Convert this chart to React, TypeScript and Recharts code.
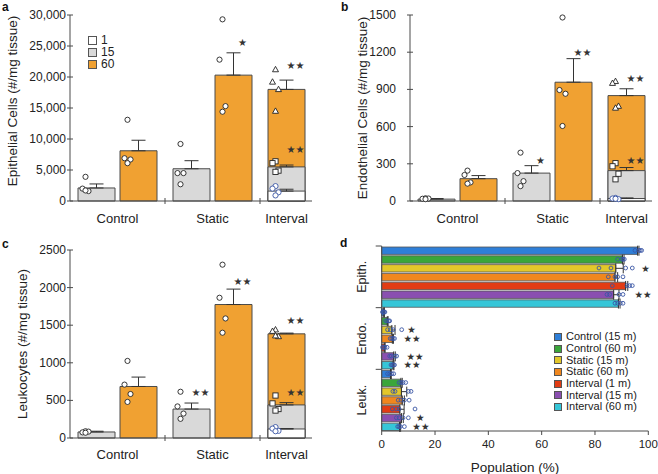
import React from 'react'
import {
  ComposedChart,
  Bar,
  Scatter,
  XAxis,
  YAxis,
  ErrorBar,
  Cell,
  ReferenceDot,
} from 'recharts'

const FONT = '"Liberation Sans", Arial, sans-serif'
const STAR_FONT = '"DejaVu Sans", sans-serif'
const ORANGE = '#F0A132'
const GRAY = '#D9D9D9'
const EDGE = '#4a4a4a'
const INK = '#222'
const BLUE_DOT = '#3a56a5'

// panels a-c, each array in the order:
// Control 15, Control 60, Static 15, Static 60, Interval 1, Interval 15, Interval 60
const groups = ['Control', 'Static', 'Interval']

const epiMeans = [2100, 8100, 5200, 20300, 1600, 5500, 18000]
const epiErrs = [650, 1700, 1300, 3600, 300, 300, 1500]
const epiPoints = [
  [3900, 2000, 1600, 1700],
  [13100, 6900, 6700, 6100],
  [9200, 4500, 4500, 2700],
  [29300, 22800, 15300, 14400],
  [2400, 2000, 1400, 900],
  [6400, 6100, 4900, 4700],
  [21200, 19200, 18000, 14500],
]
const epiTicks = [0, 5000, 10000, 15000, 20000, 25000, 30000]
const epiStars = [
  { group: 'Static', slot: 1, value: 25600, text: '★' },
  { group: 'Interval', slot: 0, value: 21800, text: '★★' },
  { group: 'Interval', slot: 0, value: 8300, text: '★★' },
]

const endoMeans = [15, 180, 225, 958, 20, 245, 850]
const endoErrs = [5, 25, 60, 190, 5, 25, 55]
const endoPoints = [
  [22, 18, 20, 15],
  [245, 210, 150, 140],
  [390, 225, 160, 120],
  [1480, 895, 865, 605],
  [25, 20, 15, 18],
  [305, 280, 220, 175],
  [965, 950, 765, 750],
]
const endoTicks = [0, 300, 600, 900, 1200, 1500]
const endoStars = [
  { group: 'Static', slot: 0, value: 330, text: '★' },
  { group: 'Static', slot: 1, value: 1200, text: '★★' },
  { group: 'Interval', slot: 0, value: 990, text: '★★' },
  { group: 'Interval', slot: 0, value: 330, text: '★★' },
]

const leukMeans = [80, 685, 385, 1775, 120, 440, 1385]
const leukErrs = [10, 125, 80, 205, 5, 30, 10]
const leukPoints = [
  [90, 75, 85, 70],
  [1025, 710, 585, 480],
  [615, 420, 325, 255],
  [2305, 1865, 1590, 1400],
  [145, 125, 95, 90],
  [565, 460, 385, 365],
  [1440, 1420, 1350, 1360],
]
const leukTicks = [0, 500, 1000, 1500, 2000, 2500]
const leukStars = [
  { group: 'Static', slot: 0, value: 600, text: '★★' },
  { group: 'Static', slot: 1, value: 2080, text: '★★' },
  { group: 'Interval', slot: 0, value: 1565, text: '★★' },
  { group: 'Interval', slot: 0, value: 600, text: '★★' },
]

const timeLegend = [
  { label: '1', color: '#ffffff' },
  { label: '15', color: GRAY },
  { label: '60', color: ORANGE },
]

// panel d
const popGroups = ['Epith.', 'Endo.', 'Leuk.']
const popSeries = [
  'Control (15 m)',
  'Control (60 m)',
  'Static (15 m)',
  'Static (60 m)',
  'Interval (1 m)',
  'Interval (15 m)',
  'Interval (60 m)',
]
const popColors = ['#2f7fd8', '#3aa63a', '#e3c72a', '#f0871e', '#e23c14', '#8a4fb0', '#36c6d8']

const epiPct = [96, 90.3, 87.8, 87.5, 91.5, 87, 88.8]
const epiPctErr = [0.5, 0.6, 2.8, 1, 0.8, 2, 0.6]
const epiPctPts = [
  [95, 96.5, 97, 97.5],
  [88.5, 90, 90.5, 91],
  [81.5, 86, 91.5, 94],
  [85, 87.5, 88.5, 90.5],
  [86.5, 92, 93, 94],
  [84.5, 85.5, 89, 90.5],
  [87.5, 88.5, 89.5, 90.5],
]
const endoPct = [0.8, 2.1, 3.8, 4.0, 1.0, 4.5, 4.3]
const endoPctErr = [0.2, 0.3, 1.2, 0.4, 0.3, 0.6, 0.3]
const endoPctPts = [
  [0.3, 0.6, 0.9, 1.2],
  [1.5, 2, 2.6, 3],
  [2.2, 3.2, 4.3, 7.5],
  [3.2, 3.8, 4.3, 4.8],
  [0.3, 0.8, 1.2, 2],
  [3, 3.6, 5, 5.6],
  [3.5, 4, 4.4, 4.8],
]
const leukPct = [3.3, 7.2, 7.4, 7.7, 6.8, 7.4, 6.7]
const leukPctErr = [0.3, 0.5, 2, 0.8, 1.6, 0.7, 0.4]
const leukPctPts = [
  [2.2, 3, 3.8, 4.5],
  [6.5, 7.2, 8, 9],
  [4.2, 5, 10, 11],
  [6.2, 7.2, 8.5, 10.3],
  [4, 5.5, 6.5, 12.5],
  [5.5, 6.5, 8, 10],
  [6, 6.5, 7, 8.5],
]
const popTicks = [0, 20, 40, 60, 80, 100]
const popStars = [
  { group: 'Epith.', series: 2, value: 99, text: '★' },
  { group: 'Epith.', series: 5, value: 98, text: '★★' },
  { group: 'Endo.', series: 2, value: 11.2, text: '★' },
  { group: 'Endo.', series: 3, value: 11.4, text: '★★' },
  { group: 'Endo.', series: 5, value: 12.5, text: '★★' },
  { group: 'Endo.', series: 6, value: 11.4, text: '★★' },
  { group: 'Leuk.', series: 5, value: 14.5, text: '★' },
  { group: 'Leuk.', series: 6, value: 14.7, text: '★★' },
]

// layout of panels a-c
const BAND = 95
const BAR = 37
const GAP = 5
const SLOT = (BAR + GAP) / 2
const Y_AXIS_W = 70
const JITTER = [0, -3, 3, 0]
const DOT_SHIFT = -11

const buildRows = (means: number[], errs: number[], pts: number[][]) =>
  groups.map((name, g) => {
    const row: Record<string, any> = { name }
    if (g < 2) {
      row.left = means[2 * g]
      row.leftErr = [0, errs[2 * g]]
      row.right = means[2 * g + 1]
      row.rightErr = [0, errs[2 * g + 1]]
      pts[2 * g].forEach((v, i) => (row['cL' + i] = v))
      pts[2 * g + 1].forEach((v, i) => (row['cR' + i] = v))
    } else {
      row.left = means[6]
      row.leftErr = [0, errs[6]]
      row.ov15 = means[5]
      row.ov15Err = [0, errs[5]]
      row.ov1 = means[4]
      row.ov1Err = [0, errs[4]]
      pts[4].forEach((v, i) => (row['b' + i] = v))
      pts[5].forEach((v, i) => (row['sq' + i] = v))
      pts[6].forEach((v, i) => (row['tr' + i] = v))
    }
    return row
  })

const markCols = [0, 1, 2, 3].flatMap(i => [
  { key: 'cL' + i, kind: 'c', dx: -SLOT + DOT_SHIFT + JITTER[i] },
  { key: 'cR' + i, kind: 'c', dx: SLOT + DOT_SHIFT + JITTER[i] },
  { key: 'b' + i, kind: 'b', dx: -SLOT + DOT_SHIFT + JITTER[i] },
  { key: 'sq' + i, kind: 'sq', dx: -SLOT + DOT_SHIFT + JITTER[i] },
  { key: 'tr' + i, kind: 'tr', dx: -SLOT + DOT_SHIFT + JITTER[i] },
])

const markShape = (kind: string, dx: number) => (p: any) => {
  const { cx, cy } = p
  if (!Number.isFinite(cx) || !Number.isFinite(cy)) return <g />
  const x = cx + dx
  if (kind === 'sq') {
    return <rect x={x - 2.6} y={cy - 2.6} width={5.2} height={5.2} fill="#fff" stroke={INK} strokeWidth={0.9} />
  }
  if (kind === 'tr') {
    return (
      <path
        d={`M${x},${cy - 3.2}L${x + 3},${cy + 2.2}L${x - 3},${cy + 2.2}Z`}
        fill="#fff"
        stroke={INK}
        strokeWidth={0.9}
      />
    )
  }
  return <circle cx={x} cy={cy} r={2.6} fill="#fff" stroke={kind === 'b' ? BLUE_DOT : INK} strokeWidth={0.9} />
}

const starShape = (text: string, dx: number, size = 10) => (p: any) => (
  <text
    x={p.cx + dx}
    y={p.cy}
    textAnchor="middle"
    dominantBaseline="central"
    fontSize={size}
    fontFamily={STAR_FONT}
    fill="#333"
  >
    {text}
  </text>
)

function GroupTick({ x, y, payload, index, rows, dy }: any) {
  const row = rows[index]
  const cx = row && row.right == null ? x - SLOT : x
  return (
    <g>
      {index > 0 && <line x1={x - BAND / 2} x2={x - BAND / 2} y1={y - 3} y2={y + 3} stroke={EDGE} />}
      <text x={cx} y={y + dy} textAnchor="middle" dominantBaseline="central" fontSize={13} fontFamily={FONT} fill={INK}>
        {payload.value}
      </text>
    </g>
  )
}

// y ticks cross the axis line in the reference
function CountYTick({ x, y, payload, fmt, gap }: any) {
  const ax = x + gap + 3
  return (
    <g>
      <line x1={ax - 3} x2={ax + 3} y1={y} y2={y} stroke={EDGE} />
      <text x={x} y={y} textAnchor="end" dominantBaseline="central" fontSize={12} fontFamily={FONT} fill={INK}>
        {fmt(payload.value)}
      </text>
    </g>
  )
}

interface CountPanelProps {
  left: number
  top: number
  height: number
  plotTop: number
  axisH: number
  labelDy: number
  title: string
  titleX: number
  titleDy: number
  tickGap: number
  ticks: number[]
  rows: Record<string, any>[]
  stars: { group: string; slot: number; value: number; text: string }[]
  fmt: (v: number) => string
}

function CountPanel(props: CountPanelProps) {
  const { left, top, height, plotTop, axisH, labelDy, title, titleX, titleDy, tickGap, ticks, rows, stars, fmt } = props
  const width = Y_AXIS_W + 3 * BAND
  const errProps = { stroke: '#333', strokeWidth: 1, width: 7 }
  return (
    <div style={{ position: 'absolute', left, top, width: 312, height, overflow: 'hidden' }}>
      <ComposedChart
        width={width}
        height={height}
        data={rows}
        margin={{ top: plotTop, right: 0, bottom: 0, left: 0 }}
        barSize={BAR}
        barGap={GAP}
      >
        <XAxis
          dataKey="name"
          height={axisH}
          axisLine={{ stroke: EDGE }}
          tickLine={false}
          tickSize={0}
          tickMargin={0}
          interval={0}
          tick={(p: any) => <GroupTick {...p} rows={rows} dy={labelDy} />}
        />
        <XAxis xAxisId="ov15" dataKey="name" hide />
        <XAxis xAxisId="ov1" dataKey="name" hide />
        <YAxis
          width={Y_AXIS_W}
          domain={[ticks[0], ticks[ticks.length - 1]]}
          ticks={ticks}
          interval={0}
          axisLine={{ stroke: EDGE }}
          tickLine={false}
          tickSize={3}
          tickMargin={tickGap}
          tick={(p: any) => <CountYTick {...p} fmt={fmt} gap={tickGap} />}
          label={{
            content: ({ viewBox }: any) => {
              const cy = viewBox.y + viewBox.height / 2 + titleDy
              return (
                <text
                  x={titleX}
                  y={cy}
                  transform={`rotate(-90 ${titleX} ${cy})`}
                  textAnchor="middle"
                  dominantBaseline="central"
                  fontSize={13.5}
                  fontFamily={FONT}
                  fill={INK}
                >
                  {title}
                </text>
              )
            },
          }}
        />
        <Bar dataKey="left" stroke={EDGE} strokeWidth={1} isAnimationActive={false}>
          {rows.map(r => (
            <Cell key={r.name} fill={r.right == null ? ORANGE : GRAY} />
          ))}
          <ErrorBar dataKey="leftErr" direction="y" {...errProps} />
        </Bar>
        <Bar dataKey="right" fill={ORANGE} stroke={EDGE} strokeWidth={1} isAnimationActive={false}>
          <ErrorBar dataKey="rightErr" direction="y" {...errProps} />
        </Bar>
        <Bar xAxisId="ov15" dataKey="ov15" fill={GRAY} stroke={EDGE} strokeWidth={1} isAnimationActive={false}>
          <ErrorBar dataKey="ov15Err" direction="y" {...errProps} />
        </Bar>
        <Bar xAxisId="ov15" dataKey="pad" isAnimationActive={false} />
        <Bar xAxisId="ov1" dataKey="ov1" fill="#ffffff" stroke={EDGE} strokeWidth={1} isAnimationActive={false}>
          <ErrorBar dataKey="ov1Err" direction="y" {...errProps} />
        </Bar>
        <Bar xAxisId="ov1" dataKey="pad" isAnimationActive={false} />
        {markCols.map(m => (
          <Scatter key={m.key} dataKey={m.key} shape={markShape(m.kind, m.dx)} isAnimationActive={false} />
        ))}
        {stars.map((s, i) => (
          <ReferenceDot
            key={i}
            x={s.group}
            y={s.value}
            r={0}
            ifOverflow="visible"
            shape={starShape(s.text, (s.slot === 0 ? -SLOT : SLOT) + 9)}
          />
        ))}
      </ComposedChart>
    </div>
  )
}

// panel d layout
const D_W = 329
const D_H = 244
const D_TOP = 16
const D_LEFT = 52.7
const D_RIGHT = 9.7
const D_AXIS_H = 43
const D_PLOT_H = D_H - D_TOP - D_AXIS_H

const popMeans = [epiPct, endoPct, leukPct]
const popErrs = [epiPctErr, endoPctErr, leukPctErr]
const popPts = [epiPctPts, endoPctPts, leukPctPts]

const popRows = popGroups.flatMap((g, gi) =>
  popSeries.map((s, si) => {
    const row: Record<string, any> = {
      id: `${g} ${s}`,
      group: g,
      si,
      mean: popMeans[gi][si],
      err: [0, popErrs[gi][si]],
    }
    popPts[gi][si].forEach((v, i) => (row['p' + i] = v))
    return row
  })
)

const ROW_H = D_PLOT_H / popRows.length

function PopTick({ x, y, index }: any) {
  const row = popRows[index]
  if (!row) return <g />
  const lx = x - 20
  return (
    <g>
      {row.si === 0 && <line x1={x - 6} x2={x} y1={y - ROW_H / 2} y2={y - ROW_H / 2} stroke={EDGE} />}
      {row.si === 3 && (
        <text
          x={lx}
          y={y}
          transform={`rotate(-90 ${lx} ${y})`}
          textAnchor="middle"
          dominantBaseline="central"
          fontSize={12.5}
          fontFamily={FONT}
          fill={INK}
        >
          {row.group}
        </text>
      )}
    </g>
  )
}

function PopulationPanel() {
  return (
    <div style={{ position: 'absolute', left: 329, top: 230, width: D_W, height: D_H }}>
      <ComposedChart
        layout="vertical"
        width={D_W}
        height={D_H}
        data={popRows}
        margin={{ top: D_TOP, right: D_RIGHT, bottom: 0, left: 0 }}
      >
        <XAxis
          type="number"
          domain={[0, 100]}
          ticks={popTicks}
          interval={0}
          height={D_AXIS_H}
          axisLine={{ stroke: EDGE }}
          tickLine={{ stroke: EDGE }}
          tickSize={4}
          tickMargin={5}
          tick={{ fill: INK, fontSize: 11.5, fontFamily: FONT }}
          label={{
            content: ({ viewBox }: any) => (
              <text
                x={viewBox.x + viewBox.width / 2}
                y={viewBox.y + 36}
                textAnchor="middle"
                dominantBaseline="central"
                fontSize={13.5}
                fontFamily={FONT}
                fill={INK}
              >
                Population (%)
              </text>
            ),
          }}
        />
        <YAxis
          type="category"
          dataKey="id"
          width={D_LEFT}
          interval={0}
          axisLine={{ stroke: EDGE }}
          tickLine={false}
          tickSize={0}
          tickMargin={0}
          tick={(p: any) => <PopTick {...p} />}
        />
        <Bar dataKey="mean" barSize={7.4} stroke="#555" strokeWidth={0.8} isAnimationActive={false}>
          {popRows.map(r => (
            <Cell key={r.id} fill={popColors[r.si]} />
          ))}
          <ErrorBar dataKey="err" direction="x" stroke="#333" strokeWidth={1} width={5} />
        </Bar>
        {[0, 1, 2, 3].map(i => (
          <Scatter
            key={i}
            dataKey={'p' + i}
            isAnimationActive={false}
            shape={(p: any) =>
              Number.isFinite(p.cx) && Number.isFinite(p.cy) ? (
                <circle cx={p.cx} cy={p.cy} r={1.9} fill="none" stroke={BLUE_DOT} strokeWidth={0.9} />
              ) : (
                <g />
              )
            }
          />
        ))}
        {popStars.map((s, i) => (
          <ReferenceDot
            key={i}
            x={s.value}
            y={`${s.group} ${popSeries[s.series]}`}
            r={0}
            ifOverflow="visible"
            shape={starShape(s.text, 0, 9.5)}
          />
        ))}
      </ComposedChart>
    </div>
  )
}

function LegendList({ items, left, top, step, box, textLeft, fontSize }: any) {
  return (
    <div style={{ position: 'absolute', left, top, fontFamily: FONT, fontSize, color: INK }}>
      {items.map((it: any, i: number) => (
        <div key={it.label} style={{ position: 'absolute', left: 0, top: i * step, whiteSpace: 'nowrap' }}>
          <div
            style={{
              position: 'absolute',
              left: 0,
              top: 0,
              width: box,
              height: box,
              boxSizing: 'border-box',
              border: '1px solid #555',
              background: it.color,
            }}
          />
          <div style={{ position: 'absolute', left: textLeft, top: box / 2 - fontSize * 0.6, lineHeight: 1.2 }}>
            {it.label}
          </div>
        </div>
      ))}
    </div>
  )
}

const panelLetter = (text: string, left: number, top: number) => (
  <div
    style={{
      position: 'absolute',
      left,
      top,
      fontFamily: FONT,
      fontWeight: 'bold',
      fontSize: 12,
      lineHeight: '12px',
      color: '#111',
    }}
  >
    {text}
  </div>
)

export default function App() {
  const commaFmt = (v: number) => v.toLocaleString('en-US')
  const plainFmt = (v: number) => String(v)
  return (
    <div style={{ position: 'absolute', left: 0, top: 0, width: 658, height: 474, background: '#fff', overflow: 'hidden' }}>
      <CountPanel
        left={0}
        top={0}
        height={230}
        plotTop={15}
        axisH={29}
        labelDy={17}
        title="Epithelial Cells (#/mg tissue)"
        titleX={12.5}
        titleDy={-7}
        tickGap={1}
        ticks={epiTicks}
        rows={buildRows(epiMeans, epiErrs, epiPoints)}
        stars={epiStars}
        fmt={commaFmt}
      />
      <CountPanel
        left={340}
        top={0}
        height={230}
        plotTop={15}
        axisH={29}
        labelDy={17}
        title="Endothelial Cells (#/mg tissue)"
        titleX={22}
        titleDy={0}
        tickGap={11}
        ticks={endoTicks}
        rows={buildRows(endoMeans, endoErrs, endoPoints)}
        stars={endoStars}
        fmt={plainFmt}
      />
      <CountPanel
        left={0}
        top={230}
        height={244}
        plotTop={20}
        axisH={36}
        labelDy={16}
        title="Leukocytes (#/mg tissue)"
        titleX={22}
        titleDy={0}
        tickGap={1}
        ticks={leukTicks}
        rows={buildRows(leukMeans, leukErrs, leukPoints)}
        stars={leukStars}
        fmt={plainFmt}
      />
      <PopulationPanel />
      <LegendList items={timeLegend} left={88} top={36} step={12} box={9} textLeft={13} fontSize={12} />
      <LegendList
        items={popSeries.map((s, i) => ({ label: s, color: popColors[i] }))}
        left={554}
        top={333}
        step={11.67}
        box={8}
        textLeft={12}
        fontSize={11}
      />
      {panelLetter('a', 2, 1)}
      {panelLetter('b', 341, 1)}
      {panelLetter('c', 2, 238)}
      {panelLetter('d', 340, 237)}
    </div>
  )
}
